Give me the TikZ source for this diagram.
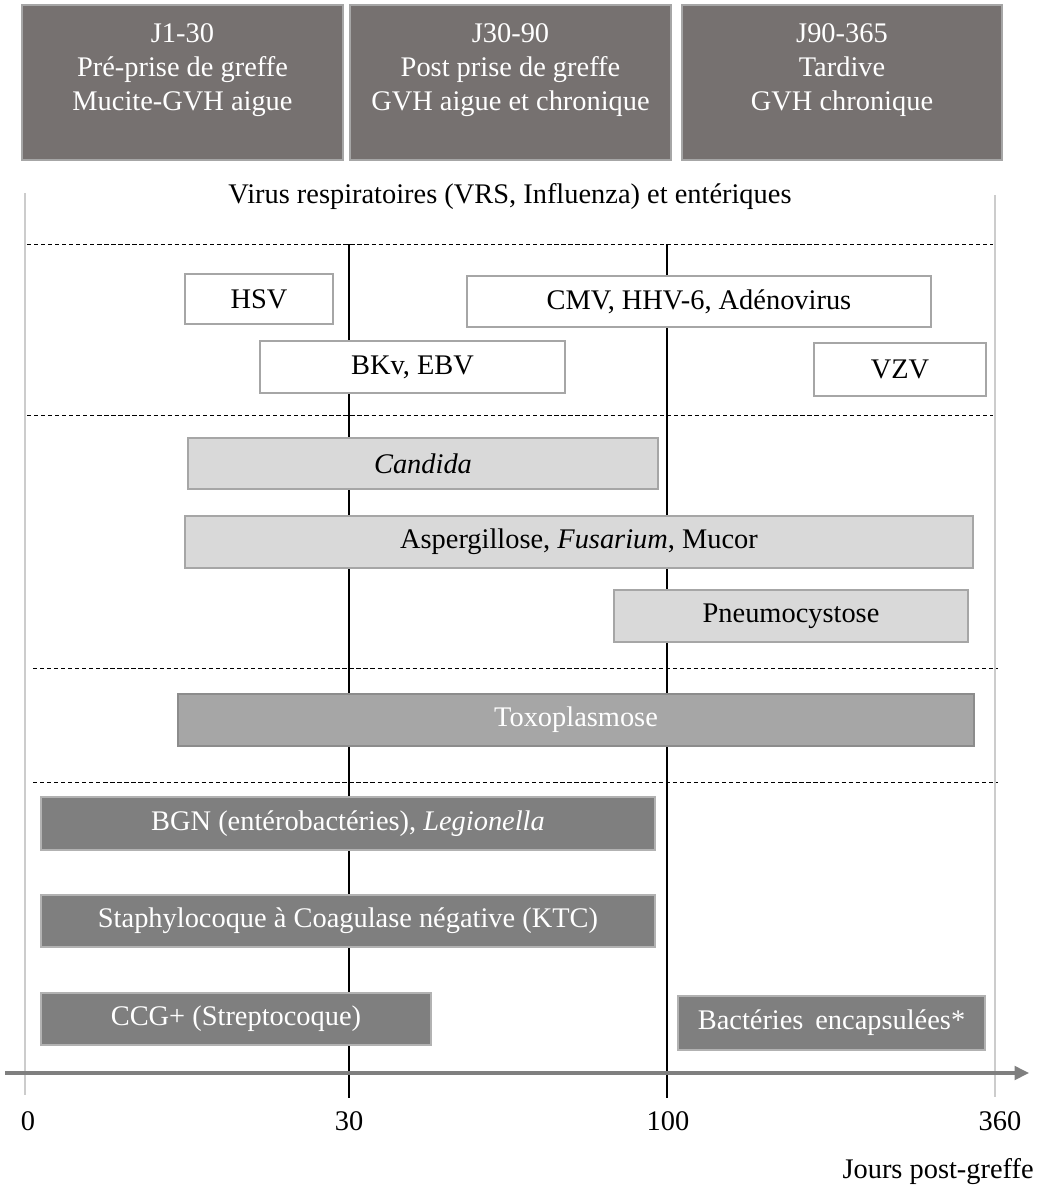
\documentclass[tikz,border=0pt]{standalone}
\usepackage{fontspec}
\setmainfont{Liberation Serif}
\usepackage{tikz}
\usetikzlibrary{arrows.meta,calc,positioning}
\definecolor{phasegray}{RGB}{118,113,112}
\definecolor{bactgray}{RGB}{127,127,127}
\definecolor{toxogray}{RGB}{166,166,166}
\definecolor{fungigray}{RGB}{217,217,217}
\definecolor{edgegray}{RGB}{166,166,166}
\tikzstyle{element}=[
  draw=edgegray,
  font={\fontsize{20.2}{24.2}\selectfont},
  inner sep=0pt,
  outer sep=0pt,
  rectangle,
  text centered,
  line width=0.9pt,
]
\tikzstyle{phase}=[element, fill=phasegray, text=white, align=center]
\tikzstyle{virus}=[element, fill=white]
\tikzstyle{fungus}=[element, fill=fungigray]
\tikzstyle{parasite}=[element, fill=toxogray, draw=black!45, text=white]
\tikzstyle{bacterium}=[element, fill=bactgray, draw=black!30, text=white]
\tikzstyle{daymark}=[draw=black, line width=1.2pt]
\tikzstyle{edgemark}=[draw=black!20, line width=1.2pt]
\tikzstyle{separator}=[draw=black, dashed, line width=0.5pt, dash pattern=on 3pt off 2pt]
\tikzstyle{label}=[font={\fontsize{20.2}{24.2}\selectfont}, inner sep=0pt]
\tikzset{
  span/.style 2 args={minimum width=#1*0.025cm, minimum height=#2*0.025cm},
}

\begin{document}
\begin{tikzpicture}[x=0.025cm, y=-0.025cm]
  \useasboundingbox (0,0) rectangle (1053,1190);
  % phases
  \node (early) [phase, span={321}{155}] at (182.5,82.5)
    {J1-30\\Pré-prise de greffe\\Mucite-GVH aigue\\[-10pt]\strut};
  \node (mid) [phase, span={321}{155}] at (510.5,82.5)
    {J30-90\\Post prise de greffe\\GVH aigue et chronique\\[-10pt]\strut};
  \node (late) [phase, span={320}{155}] at (842,82.5)
    {J90-365\\Tardive\\GVH chronique\\[-10pt]\strut};
  % time grid
  \coordinate (d0top) at (25,193);
  \coordinate (d0bot) at (25,1095);
  \coordinate (d360top) at (995,195);
  \coordinate (d360bot) at (995,1097);
  \coordinate (d30top) at (349,244);
  \coordinate (d30bot) at (349,1098);
  \coordinate (d100top) at (667,244);
  \coordinate (d100bot) at (667,1098);
  \draw [edgemark] (d0top) -- (d0bot);
  \draw [edgemark] (d360top) -- (d360bot);
  \draw [daymark] (d30top) -- (d30bot);
  \draw [daymark] (d100top) -- (d100bot);
  \node (resp) [label] at (510,197) {Virus respiratoires (VRS, Influenza) et entériques};
  \coordinate (sepa) at (27,244);  \coordinate (sepA) at (993,244);
  \coordinate (sepb) at (27,415);  \coordinate (sepB) at (993,415);
  \coordinate (sepc) at (33,668);  \coordinate (sepC) at (998,668);
  \coordinate (sepd) at (33,782);  \coordinate (sepD) at (998,782);
  \draw [separator] (sepa) -- (sepA);
  \draw [separator] (sepb) -- (sepB);
  \draw [separator] (sepc) -- (sepC);
  \draw [separator] (sepd) -- (sepD);
  % viruses
  \node (hsv) [virus, span={148}{50}] at (259,299) {HSV};
  \node (cmv) [virus, span={464}{51}] at (699,301.5) {CMV, HHV-6, Adénovirus};
  \node (bkv) [virus, span={305}{52}] at (412.5,367) {BKv, EBV};
  \node (vzv) [virus, span={172}{53}] at (900,369.5) {VZV};
  % fungi
  \node (candida) [fungus, span={470}{51}] at (423,463.5) {\itshape Candida};
  \node (asperg) [fungus, span={788}{52}] at (579,542) {Aspergillose, \textit{Fusarium}, Mucor};
  \node (pneumo) [fungus, span={354}{52}] at (791,616) {Pneumocystose};
  % parasites
  \node (toxo) [parasite, span={796}{52}] at (576,720) {Toxoplasmose};
  % bacteria
  \node (bgn) [bacterium, span={614}{53}] at (348,823.5) {BGN (entérobactéries), \textit{Legionella}};
  \node (staph) [bacterium, span={614}{52}] at (348,921) {Staphylocoque à Coagulase négative (KTC)};
  \node (ccg) [bacterium, span={390}{52}] at (236,1019) {CCG+ (Streptocoque)};
  \node (encaps) [bacterium, span={307}{54}] at (831.5,1023) {Bactéries\, encapsulées*};
  % time axis
  \coordinate (axisstart) at (5,1073);
  \coordinate (axisend) at (1029,1073);
  \draw [draw=bactgray, line width=2.2pt, -{Triangle[length=0.36cm,width=0.34cm]}] (axisstart) -- (axisend);
  \node (t0) [label] at (28,1121) {0};
  \node (t30) [label] at (349,1121) {30};
  \node (t100) [label] at (668,1121) {100};
  \node (t360) [label] at (1000,1121) {360};
  \node (days) [label, anchor=east] at (1034,1172) {Jours post-greffe};
\end{tikzpicture}
\end{document}
